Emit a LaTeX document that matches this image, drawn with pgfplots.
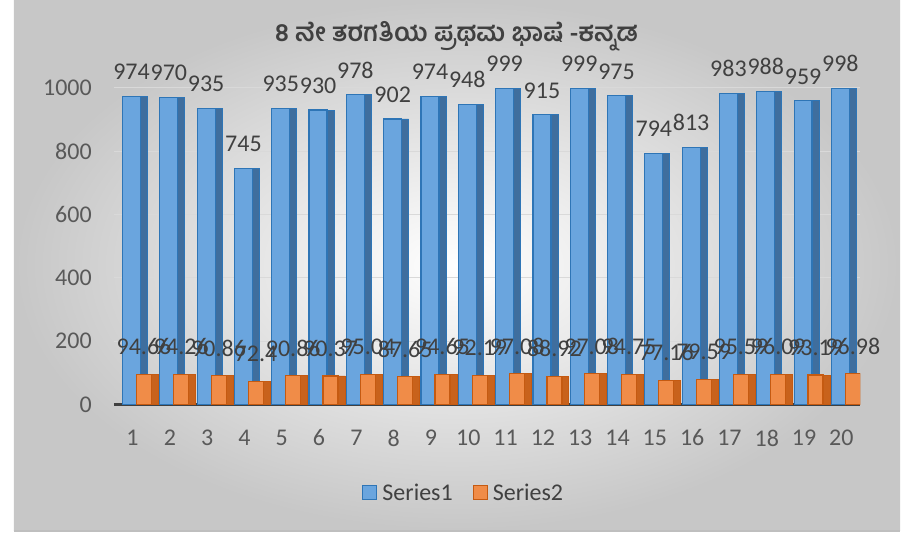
\documentclass[border=0pt]{standalone}
\usepackage{fontspec}
\setmainfont{Carlito}
\newfontfamily\kn[Script=Kannada]{Hind Mysuru}
\usepackage{pgfplots}
\pgfplotsset{compat=1.18}
\usepackage{pgfplotstable}

\definecolor{bface}{HTML}{6AA5DE}
\definecolor{bedge}{HTML}{2E75B6}
\definecolor{bside}{HTML}{3F6E9E}
\definecolor{oface}{HTML}{F08C48}
\definecolor{oedge}{HTML}{C55A11}
\definecolor{oside}{HTML}{C8621C}
\definecolor{txt}{HTML}{404040}
\definecolor{tick}{HTML}{595959}
\definecolor{gridc}{HTML}{D9D9D9}

% marks of the class, Series1 out of 1000, Series2 in percent
\pgfplotstableread{
x s1 s2
1 974 94.66
2 970 94.26
3 935 90.86
4 745 72.4
5 935 90.86
6 930 90.37
7 978 95.04
8 902 87.65
9 974 94.65
10 948 92.19
11 999 97.08
12 915 88.92
13 999 97.08
14 975 94.75
15 794 77.16
16 813 79.59
17 983 95.59
18 988 96.09
19 959 93.19
20 998 96.98
}\scores

\begin{document}
\begin{tikzpicture}
\path (0pt,0pt) rectangle (901pt,535pt);
\shade[inner color=white, outer color=black!22] (14pt,4pt) rectangle (901pt,535pt);
\draw[black!25, line width=2pt] (14pt,3pt) -- (901pt,3pt);

\node[font=\kn\bfseries\fontsize{25.5}{30}\selectfont, text=txt] at (457pt,499pt)
  {8 ನೇ ತರಗತಿಯ ಪ್ರಥಮ ಭಾಷೆ -ಕನ್ನಡ};

\begin{axis}[
  at={(114pt,130pt)}, anchor=south west,
  scale only axis, width=747pt, height=317pt,
  xmin=0.5, xmax=20.5, ymin=0, ymax=1000,
  xtick={1,...,20}, ytick={0,200,...,1000},
  axis x line=bottom, axis y line=left,
  axis line style={-},
  x axis line style={draw=txt, line width=3pt},
  y axis line style={draw=none},
  major tick length=0pt,
  ymajorgrids, grid style={gridc, line width=1pt},
  ybar,
  every axis plot post/.append style={
    legend image code/.code={\draw[#1, line width=1.2pt] (0pt,-7pt) rectangle (14pt,7pt);}},
  /pgf/number format/assume math mode=true,
  /pgf/number format/1000 sep={},
  tick label style={font=\fontsize{24}{28}\selectfont, text=tick},
  xticklabel style={anchor=north, inner sep=0pt, yshift=-25pt},
  yticklabel style={anchor=east, inner sep=0pt, xshift=-22pt},
  every node near coord/.append style={font=\fontsize{24}{28}\selectfont, text=txt, inner sep=0pt, anchor=south},
  legend style={at={(0.4675,-0.278)}, anchor=center, draw=none, fill=none,
    legend columns=2, font=\fontsize{24}{28}\selectfont, text=txt,
    nodes={inner sep=0pt},
    /tikz/every even column/.append style={column sep=20pt},
    /tikz/every odd column/.append style={column sep=5pt}},
]
\addplot[forget plot, fill=bside, draw=bedge, line width=0.8pt, bar width=7pt, bar shift=11.5pt]
  table[x=x, y=s1] {\scores};
\addplot[fill=bface, draw=bedge, line width=1.2pt, bar width=18pt, bar shift=-1pt,
  nodes near coords, every node near coord/.append style={yshift=16pt}]
  table[x=x, y=s1] {\scores};
\addplot[forget plot, fill=oside, draw=oedge, line width=0.8pt, bar width=7pt, bar shift=22.5pt]
  table[x=x, y=s2] {\scores};
\addplot[fill=oface, draw=oedge, line width=1.2pt, bar width=15pt, bar shift=11.5pt,
  nodes near coords, every node near coord/.append style={yshift=19pt}]
  table[x=x, y=s2] {\scores};
\legend{Series1, Series2}
\end{axis}
\end{tikzpicture}
\end{document}
